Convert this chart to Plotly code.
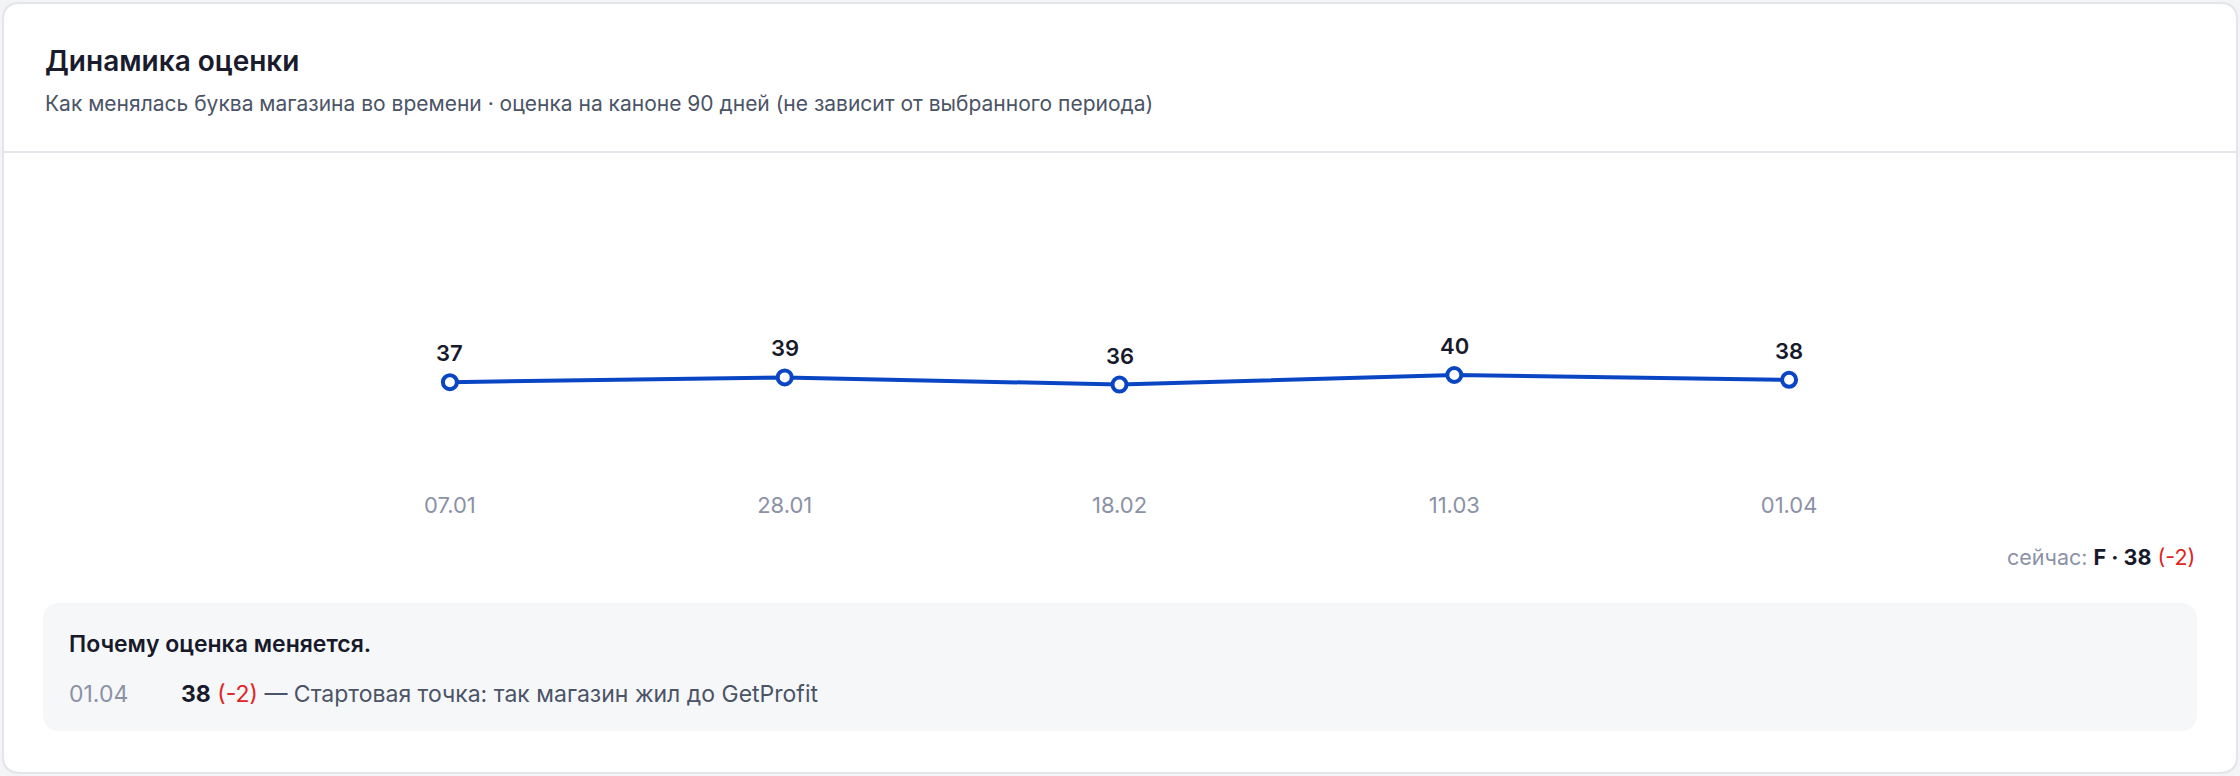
import plotly.graph_objects as go

# chart data
dates = ["07.01", "28.01", "18.02", "11.03", "01.04"]
scores = [37, 39, 36, 40, 38]

current_grade = "F"
current_score = 38
current_delta = -2

reason_dates = ["01.04"]
reason_scores = [38]
reason_deltas = [-2]
reason_texts = ["Стартовая точка: так магазин жил до GetProfit"]

W, H = 2240, 776
FONT = "Inter"
BLUE = "#0a45c4"
DARK = "#171a2b"
GREY = "#8b92a6"
RED = "#e02424"


def px(x):
    return x / W


def py(y):
    return 1 - y / H


def round_rect(x0, y0, x1, y1, r):
    # rounded rectangle as an svg path in paper coordinates
    pts = [
        ("M", (x0 + r, y0)), ("L", (x1 - r, y0)),
        ("Q", (x1, y0), (x1, y0 + r)), ("L", (x1, y1 - r)),
        ("Q", (x1, y1), (x1 - r, y1)), ("L", (x0 + r, y1)),
        ("Q", (x0, y1), (x0, y1 - r)), ("L", (x0, y0 + r)),
        ("Q", (x0, y0), (x0 + r, y0)),
    ]
    path = ""
    for p in pts:
        cmd = p[0]
        coords = " ".join(f"{px(a):.5f},{py(b):.5f}" for a, b in p[1:])
        path += f"{cmd}{coords} "
    return path + "Z"


fig = go.Figure()

fig.add_trace(go.Scatter(
    x=dates, y=scores, mode="lines+markers",
    line=dict(color=BLUE, width=4),
    marker=dict(size=14, color="white", line=dict(color=BLUE, width=4)),
    hoverinfo="skip", showlegend=False, cliponaxis=False,
))

annotations = []
# value labels above the points (category index as x)
for i, s in enumerate(scores):
    annotations.append(dict(
        x=i, y=s, xref="x", yref="y", text=str(s), showarrow=False,
        yshift=29, font=dict(family=FONT, size=22, color=DARK, weight=600),
    ))

# header
annotations.append(dict(
    x=px(43), y=py(61), xref="paper", yref="paper", xanchor="left", yanchor="middle",
    text="Динамика оценки", showarrow=False,
    font=dict(family=FONT, size=28, color="#1a1c2e", weight=600),
))
annotations.append(dict(
    x=px(43), y=py(104), xref="paper", yref="paper", xanchor="left", yanchor="middle",
    text="Как менялась буква магазина во времени · оценка на каноне 90 дней (не зависит от выбранного периода)",
    showarrow=False, font=dict(family=FONT, size=21, color="#4b5466"),
))

# current value
annotations.append(dict(
    x=px(2197), y=py(557), xref="paper", yref="paper", xanchor="right", yanchor="middle",
    text=(f"<span style='color:{GREY}'>сейчас:</span> "
          f"<b>{current_grade} · {current_score}</b> "
          f"<span style='color:{RED}'>({current_delta})</span>"),
    showarrow=False, font=dict(family=FONT, size=21.5, color=DARK),
))

# reasons panel
annotations.append(dict(
    x=px(67), y=py(644), xref="paper", yref="paper", xanchor="left", yanchor="middle",
    text="Почему оценка меняется.", showarrow=False,
    font=dict(family=FONT, size=23, color=DARK, weight=600),
))
for i, (d, s, dl, t) in enumerate(zip(reason_dates, reason_scores, reason_deltas, reason_texts)):
    row_y = 694 + i * 40
    annotations.append(dict(
        x=px(67), y=py(row_y), xref="paper", yref="paper", xanchor="left", yanchor="middle",
        text=d, showarrow=False, font=dict(family=FONT, size=23, color=GREY),
    ))
    annotations.append(dict(
        x=px(179), y=py(row_y), xref="paper", yref="paper", xanchor="left", yanchor="middle",
        text=(f"<b style='color:{DARK}'>{s}</b> <span style='color:{RED}'>({dl})</span>"
              f" — {t}"),
        showarrow=False, font=dict(family=FONT, size=23, color="#4b5466"),
    ))

shapes = [
    dict(type="path", path=round_rect(3, 3, 2237, 773, 17), xref="paper", yref="paper",
         fillcolor="white", line=dict(color="#e3e5ea", width=2), layer="below"),
    dict(type="line", x0=px(3), x1=px(2237), y0=py(152), y1=py(152), xref="paper", yref="paper",
         line=dict(color="#e3e5ea", width=2), layer="below"),
    dict(type="path", path=round_rect(43, 603, 2197, 731, 17), xref="paper", yref="paper",
         fillcolor="#f6f7f9", line=dict(width=0), layer="below"),
]

fig.update_layout(
    width=W, height=H,
    margin=dict(l=0, r=0, t=0, b=0),
    paper_bgcolor="#f3f4f6", plot_bgcolor="rgba(0,0,0,0)",
    font=dict(family=FONT),
    xaxis=dict(
        type="category", range=[-0.5, 4.5], domain=[px(282.5), px(1956.5)],
        showgrid=False, zeroline=False, showline=False, ticks="",
        tickfont=dict(family=FONT, size=22, color=GREY), ticklabelstandoff=19,
        fixedrange=True,
    ),
    yaxis=dict(
        range=[0, 100], domain=[py(471), py(231)],
        showgrid=False, zeroline=False, showline=False, showticklabels=False,
        fixedrange=True,
    ),
    annotations=annotations,
    shapes=shapes,
)

# page body has a default 8px margin; drop it so the figure fills the window
fig.write_html("out.html", config={"displayModeBar": False},
               post_script="document.body.style.margin='0px';")
